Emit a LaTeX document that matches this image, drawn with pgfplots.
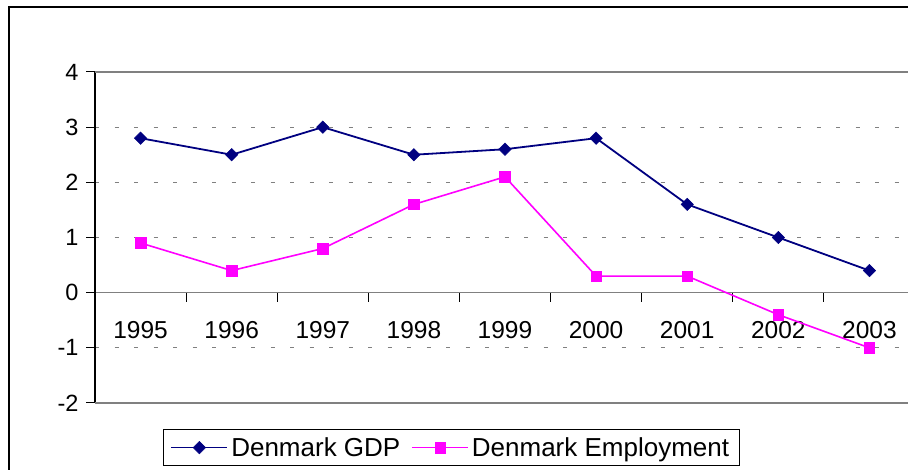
\documentclass[border=0pt]{standalone}
\usepackage{fontspec}
\setmainfont{Liberation Sans}
\usepackage{pgfplots}
\pgfplotsset{compat=1.18}
\definecolor{gdpnavy}{HTML}{000080}
\definecolor{empmag}{HTML}{FF00FF}
\definecolor{gridgray}{HTML}{808080}
\begin{document}
\begin{tikzpicture}
\useasboundingbox (0,0) rectangle (908pt,470pt);
\clip (0,0) rectangle (908pt,470pt);
\draw[overlay, black, line width=1.2pt] (9pt,-20pt) rectangle (930pt,463pt);
\begin{axis}[
  overlay,
  at={(95pt,67pt)}, anchor=south west,
  scale only axis, width=820pt, height=331pt,
  xmin=-0.5, xmax=8.5, ymin=-2, ymax=4,
  axis x line=middle, axis y line=left,
  axis line style={-},
  x axis line style={gridgray, line width=1.2pt},
  y axis line style={black, line width=1.2pt},
  hide obscured x ticks=false, hide obscured y ticks=false,
  tick align=outside,
  major tick length=9pt,
  every tick/.style={black, line width=1pt},
  xtick={-0.5,0.5,...,8.5},
  xticklabels={},
  extra x ticks={0,1,2,3,4,5,6,7,8},
  extra x tick labels={1995,1996,1997,1998,1999,2000,2001,2002,2003},
  extra x tick style={major tick length=0pt, grid=none,
     xticklabel style={anchor=center, yshift=-37pt}},
  xticklabel style={font=\fontsize{24.5}{28}\selectfont},
  ytick={-1,0,1,2,3},
  extra y ticks={-2,4},
  extra y tick style={grid=major, major grid style={gridgray, solid, line width=1.2pt}},
  ymajorgrids,
  major grid style={gridgray, dash pattern=on 4pt off 15.5pt, line width=1.2pt},
  yticklabel style={font=\fontsize{23.5}{27}\selectfont, xshift=-4pt},
  /pgf/number format/assume math mode=true,
  legend columns=2,
  legend style={at={(axis description cs:0.083,-0.0785)}, anchor=north west,
    draw=black, line width=0.9pt, inner xsep=7pt, inner ysep=5pt,
    font=\fontsize{26}{30}\selectfont,
    nodes={inner sep=3pt},
    /tikz/every even column/.append style={column sep=8pt}},
  legend image code/.code={\draw[mark repeat=2,mark phase=2,#1] plot coordinates {(0pt,0pt) (28pt,0pt) (56pt,0pt)};},
]
\addplot[gdpnavy, line width=1.8pt, mark=square*, mark size=4.4pt,
  mark options={rotate=45, solid, line width=0.5pt}]
  coordinates {(0,2.8)(1,2.5)(2,3.0)(3,2.5)(4,2.6)(5,2.8)(6,1.6)(7,1.0)(8,0.4)};
\addlegendentry{Denmark GDP}
\addplot[empmag, line width=1.6pt, mark=square*, mark size=5.3pt,
  mark options={solid, line width=0.5pt}]
  coordinates {(0,0.9)(1,0.4)(2,0.8)(3,1.6)(4,2.1)(5,0.3)(6,0.3)(7,-0.4)(8,-1.0)};
\addlegendentry{Denmark Employment}
\end{axis}
\end{tikzpicture}
\end{document}
